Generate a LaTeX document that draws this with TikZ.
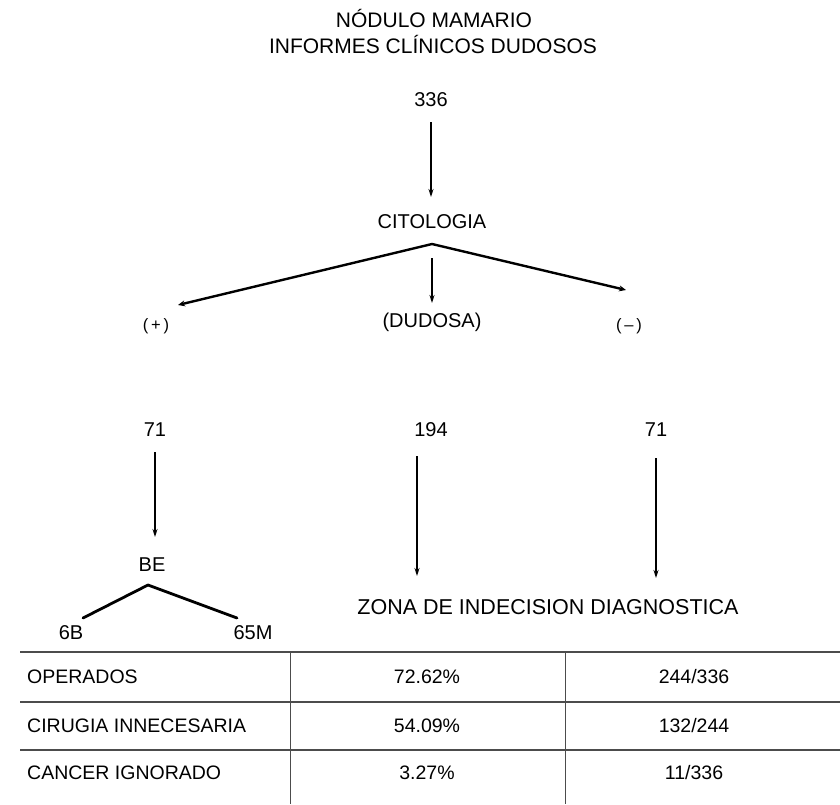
\documentclass[tikz,border=0pt]{standalone}
\usepackage{fontspec}
\setmainfont{Liberation Sans}
\usetikzlibrary{arrows.meta}
\begin{document}
\begin{tikzpicture}[x=1pt,y=-1pt,
  lbl/.style={inner sep=0pt, font=\fontsize{20}{22}\selectfont},
  sml/.style={inner sep=0pt, font=\fontsize{16.5}{18}\selectfont},
  ttl/.style={inner sep=0pt, font=\fontsize{21}{23}\selectfont},
  tbl/.style={inner sep=0pt, font=\fontsize{19.5}{21}\selectfont},
  arr/.style={line width=1.3pt, -{Stealth[length=8pt,width=5pt]}},
  brarr/.style={line width=2.4pt, line cap=round, -{Stealth[length=7pt,width=6pt]}},
  br/.style={line width=2.8pt, line cap=round, line join=round},
  rule/.style={line width=1.5pt, draw=black!70}]
\useasboundingbox (0,0) rectangle (840,804);
% texts
\node[ttl] (t1) at (434,18) {NÓDULO MAMARIO};
\node[ttl] (t2) at (433,44) {INFORMES CLÍNICOS DUDOSOS};
\node[lbl] (n336) at (431,100) {336};
\node[lbl] (cit) at (432,222) {CITOLOGIA};
\node[sml] (pos) at (156,326) {(\,+\,)};
\node[lbl] (dud) at (432,322) {(DUDOSA)};
\node[sml] (neg) at (629,326) {(\,–\,)};
\node[lbl] (n71l) at (155,430) {71};
\node[lbl] (n194) at (431,430) {194};
\node[lbl] (n71r) at (656,430) {71};
\node[lbl] (be) at (152,565) {BE};
\node[lbl] (b6) at (71,633) {6B};
\node[lbl] (m65) at (253,633) {65M};
\node[ttl, font=\fontsize{21.5}{23}\selectfont] (zona) at (548,607) {ZONA DE INDECISION DIAGNOSTICA};
% connector points
\coordinate (a1s) at (431,122); \coordinate (a1e) at (431,197);
\coordinate (apex) at (432,244);
\coordinate (lend) at (178,305); \coordinate (rend) at (626,290);
\coordinate (ms) at (432,258); \coordinate (me) at (432,303);
\coordinate (l71s) at (155,452); \coordinate (l71e) at (155,537);
\coordinate (m194s) at (417,456); \coordinate (m194e) at (417,576);
\coordinate (r71s) at (656,458); \coordinate (r71e) at (656,578);
\coordinate (beap) at (148,585);
\coordinate (bel) at (83,618); \coordinate (ber) at (237,618);
% arrows
\draw[arr] (a1s) -- (a1e);
\draw[brarr] (apex) -- (lend);
\draw[brarr] (apex) -- (rend);
\draw[arr] (ms) -- (me);
\draw[arr] (l71s) -- (l71e);
\draw[arr] (m194s) -- (m194e);
\draw[arr] (r71s) -- (r71e);
\draw[br] (bel) -- (beap) -- (ber);
% table
\coordinate (tl1) at (20,652); \coordinate (tr1) at (840,652);
\coordinate (tl2) at (20,702); \coordinate (tr2) at (840,702);
\coordinate (tl3) at (20,750); \coordinate (tr3) at (840,750);
\coordinate (c1t) at (290,652); \coordinate (c1b) at (290,804);
\coordinate (c2t) at (565,652); \coordinate (c2b) at (565,804);
\draw[rule] (tl1) -- (tr1);
\draw[rule] (tl2) -- (tr2);
\draw[rule] (tl3) -- (tr3);
\draw[rule, line width=1pt] (c1t) -- (c1b);
\draw[rule, line width=1pt] (c2t) -- (c2b);
\node[tbl, anchor=west] (r1a) at (27,677) {OPERADOS};
\node[tbl] (r1b) at (427,677) {72.62\%};
\node[tbl] (r1c) at (694,677) {244/336};
\node[tbl, anchor=west] (r2a) at (27,726) {CIRUGIA INNECESARIA};
\node[tbl] (r2b) at (427,726) {54.09\%};
\node[tbl] (r2c) at (694,726) {132/244};
\node[tbl, anchor=west] (r3a) at (27,773) {CANCER IGNORADO};
\node[tbl] (r3b) at (427,773) {3.27\%};
\node[tbl] (r3c) at (694,773) {11/336};
\end{tikzpicture}
\end{document}
